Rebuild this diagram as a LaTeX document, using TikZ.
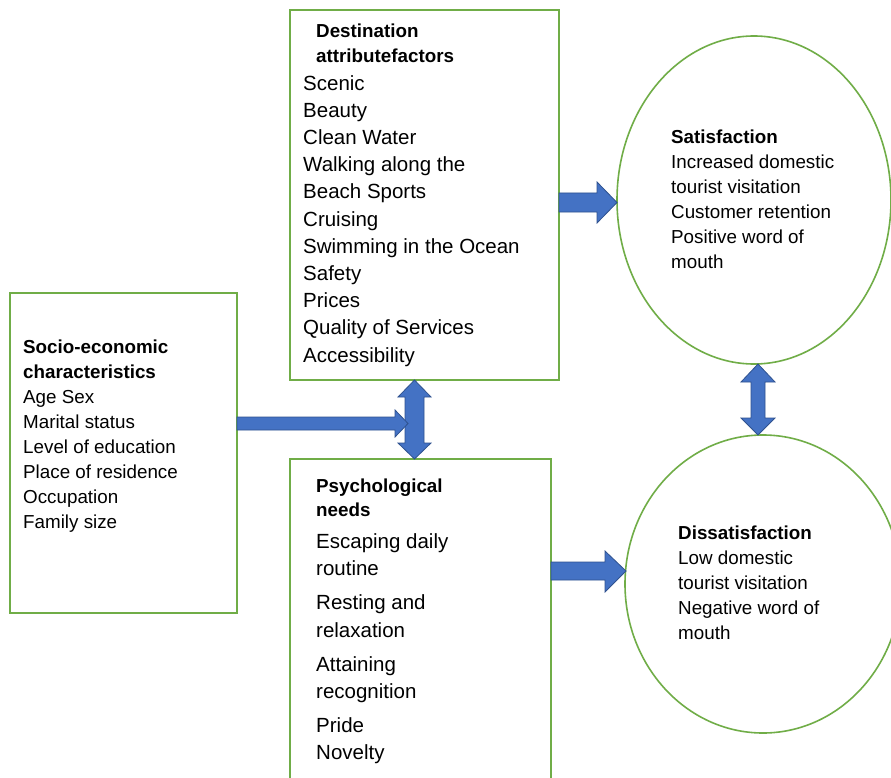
\documentclass[tikz,border=0pt]{standalone}
\usepackage{fontspec}
\setmainfont{Liberation Sans}
\usetikzlibrary{shapes.geometric}
\definecolor{boxgreen}{HTML}{70AD47}
\definecolor{arrowblue}{HTML}{4472C4}
\definecolor{arrowedge}{HTML}{2F528F}
\tikzset{
  box/.style={draw=boxgreen, line width=1.6pt, rectangle, inner sep=0pt, outer sep=0pt, anchor=north west},
  oval/.style={draw=boxgreen, line width=1.6pt, ellipse, inner sep=0pt, outer sep=0pt},
  blockarrow/.style={fill=arrowblue, draw=arrowedge, line width=0.8pt, line join=miter},
  txt/.style={anchor=base west, inner sep=0pt, align=left, font=\fontsize{18.8}{25}\selectfont},
  bigtxt/.style={anchor=base west, inner sep=0pt, align=left, font=\fontsize{20.5}{27.2}\selectfont},
}
\begin{document}
\begin{tikzpicture}[x=1pt,y=-1pt]
\useasboundingbox (0,0) rectangle (891,778);
\clip (0,0) rectangle (891,778);
\fill[white] (0,0) rectangle (891,778);

% boxes
\node[box, minimum width=269pt, minimum height=370pt] (dest) at (290,10) {};
\node[box, minimum width=227pt, minimum height=320pt] (socio) at (10,293) {};
\node[box, minimum width=261pt, minimum height=340pt] (psych) at (290,459) {};
\node[oval, minimum width=274pt, minimum height=328pt] (sat) at (754,200) {};
\node[oval, minimum width=276pt, minimum height=298pt] (dis) at (763,584) {};

% texts (anchored at the baseline of their last line)
\node[txt, font=\fontsize{18.8}{25}\selectfont\bfseries] (desthead) at (316,63) {Destination\\attributefactors};
\node[bigtxt] (destitems) at (303,362) {Scenic\\Beauty\\Clean Water\\Walking along the\\Beach Sports\\Cruising\\Swimming in the Ocean\\Safety\\Prices\\Quality of Services\\Accessibility};
\node[txt] (sattext) at (671,268) {\textbf{Satisfaction}\\Increased domestic\\tourist visitation\\Customer retention\\Positive word of\\mouth};
\node[txt] (distext) at (678,639) {\textbf{Dissatisfaction}\\Low domestic\\tourist visitation\\Negative word of\\mouth};
\node[txt, font=\fontsize{18.8}{24.9}\selectfont] (sociotext) at (23,528) {\textbf{Socio-economic}\\\textbf{characteristics}\\Age Sex\\Marital status\\Level of education\\Place of residence\\Occupation\\Family size};
\node[txt, font=\fontsize{18.8}{24}\selectfont\bfseries] (psychhead) at (316,516) {Psychological\\needs};
\node[bigtxt] (psychitems) at (316,759.5) {Escaping daily\\routine\\[6.8pt]Resting and\\relaxation\\[6.8pt]Attaining\\recognition\\[6.8pt]Pride\\Novelty};

% block arrows
\draw[blockarrow] (414.5,380) -- (431,397) -- (424,397) -- (424,443) -- (431,443) -- (414.5,459)
  -- (398,443) -- (405,443) -- (405,397) -- (398,397) -- cycle;
\draw[blockarrow] (237,417) -- (395,417) -- (395,410) -- (408,423.5) -- (395,437) -- (395,430) -- (237,430) -- cycle;
\draw[blockarrow] (559,193) -- (597,193) -- (597,182) -- (617,202.5) -- (597,223) -- (597,212) -- (559,212) -- cycle;
\draw[blockarrow] (551,562) -- (605,562) -- (605,551) -- (626,571) -- (605,592) -- (605,580) -- (551,580) -- cycle;
\draw[blockarrow] (758,364) -- (775,382) -- (765,382) -- (765,418) -- (775,418) -- (758,435)
  -- (741,418) -- (751,418) -- (751,382) -- (741,382) -- cycle;
\end{tikzpicture}
\end{document}
